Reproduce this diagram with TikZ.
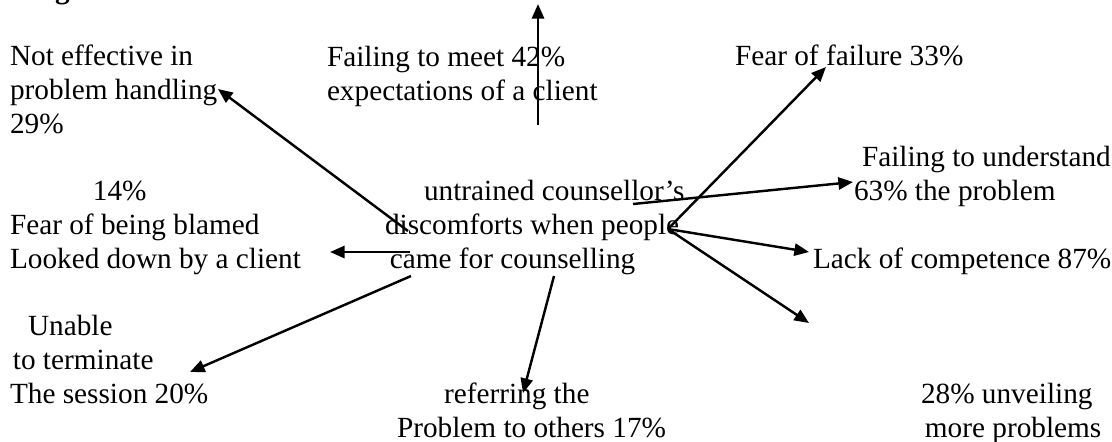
\documentclass[tikz,border=0pt]{standalone}
\usepackage{fontspec}
\setmainfont{Liberation Serif}
\usetikzlibrary{arrows.meta}
\tikzset{
  lbl/.style={anchor=base west, inner sep=0pt, outer sep=0pt, align=left,
    font=\fontsize{12}{13.8}\selectfont},
  arr/.style={line width=1pt, -{Triangle[length=6pt,width=5pt]}}
}
\begin{document}
\begin{tikzpicture}[x=0.41pt,y=-0.41pt]
\useasboundingbox (0,0) rectangle (1112,441);
% cut-off heading fragment
\node[lbl, font=\fontsize{12}{13.8}\selectfont\bfseries] (head) at (55,-1.5) {g};
% labels (anchor = baseline of last line)
\node[lbl] (ne) at (10,133) {Not effective in\\problem handling\\29\%};
\node[lbl] (fm) at (327,100) {Failing to meet 42\%\\expectations of a client};
\node[lbl] (ff) at (735,65) {Fear of failure 33\%};
\node[lbl] (fb) at (10,268) {\hspace*{34pt}14\%\\Fear of being blamed\\Looked down by a client};
\node[lbl] (ctr) at (385,268) {\hspace*{16pt}untrained counsellor’s\\discomforts when people\\\hspace*{2pt}came for counselling};
\node[lbl] (fu) at (854,200) {\hspace*{3.3pt}Failing to understand\\63\% the problem};
\node[lbl] (lc) at (813,268) {Lack of competence 87\%};
\node[lbl] (un) at (10,403) {\hspace*{7.4pt}Unable\\\hspace*{1.2pt}to terminate\\The session 20\%};
\node[lbl] (rf) at (397,437) {\hspace*{19.3pt}referring the\\Problem to others 17\%};
\node[lbl] (mp) at (921,437) {28\% unveiling\\\hspace*{1.6pt}more problems};
% connector end points
\coordinate (hub) at (668,229);
\coordinate (uS) at (538,125);
\coordinate (uT) at (538,4);
\coordinate (ffT) at (826,67);
\coordinate (fuS) at (633,204);
\coordinate (fuT) at (853,182);
\coordinate (lcT) at (809,252);
\coordinate (mpT) at (809,323);
\coordinate (neS) at (408,231);
\coordinate (neT) at (218,89);
\coordinate (fbS) at (410,252);
\coordinate (fbT) at (330,252);
\coordinate (unS) at (411,276);
\coordinate (unT) at (190,372);
\coordinate (rfS) at (554,276);
\coordinate (rfT) at (523,393);
% connectors
\draw[arr] (uS) -- (uT);
\draw[arr] (hub) -- (ffT);
\draw[arr] (fuS) -- (fuT);
\draw[arr] (hub) -- (lcT);
\draw[arr] (hub) -- (mpT);
\draw[arr] (neS) -- (neT);
\draw[arr] (fbS) -- (fbT);
\draw[arr] (unS) -- (unT);
\draw[arr] (rfS) -- (rfT);
\end{tikzpicture}
\end{document}
